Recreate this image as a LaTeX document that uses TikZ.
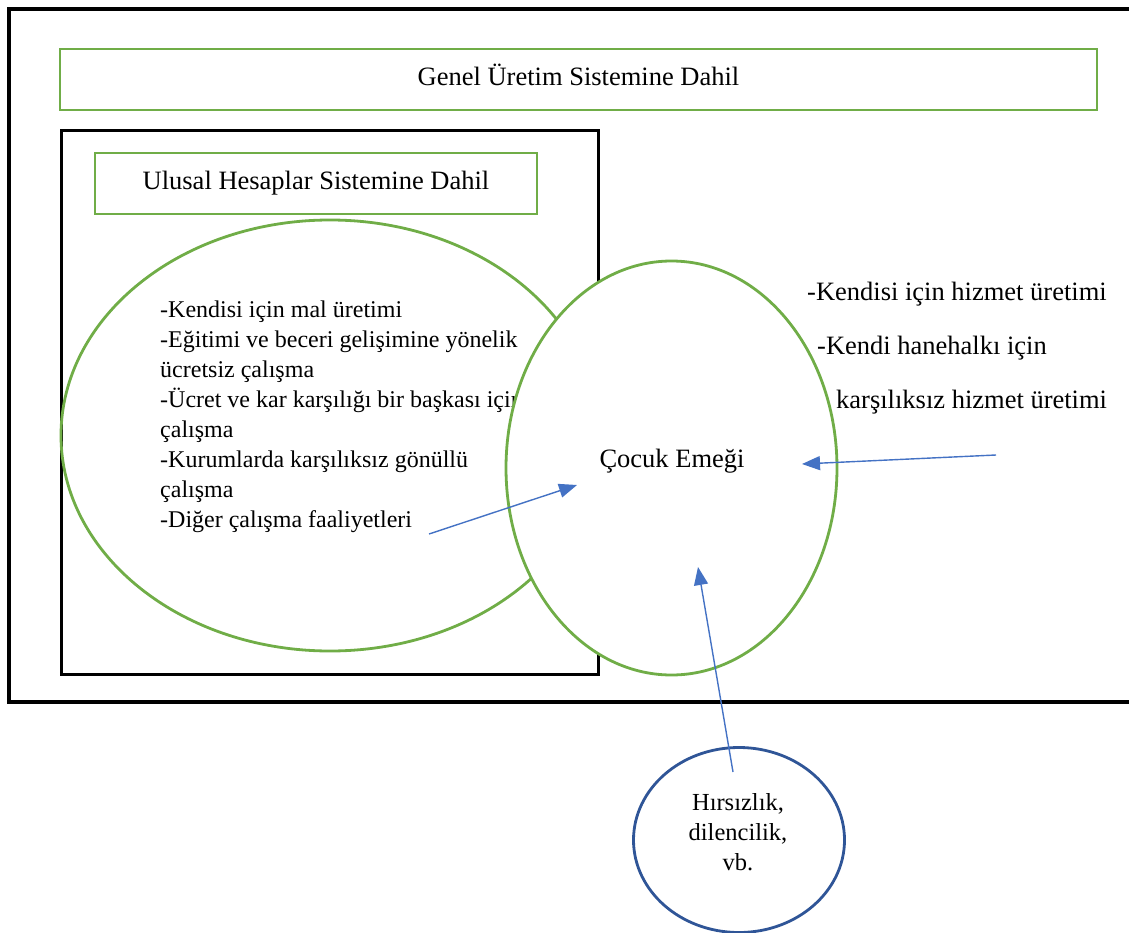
\documentclass[tikz,border=0pt]{standalone}
\usepackage{fontspec}
\setmainfont{Liberation Serif}
\usetikzlibrary{shapes.geometric,arrows.meta}
\definecolor{grn}{HTML}{70AD47}
\definecolor{arr}{HTML}{4472C4}
\definecolor{dblue}{HTML}{2F5597}
\begin{document}
\begin{tikzpicture}[x=1pt,y=-1pt,
  bigtxt/.style={font=\fontsize{26.5}{30}\selectfont, inner sep=0pt, anchor=base},
  listtxt/.style={font=\fontsize{24}{30}\selectfont, inner sep=0pt, anchor=base west},
  smalltxt/.style={font=\fontsize{24.5}{30}\selectfont, inner sep=0pt, anchor=base},
  rtxt/.style={font=\fontsize{26.5}{30}\selectfont, inner sep=0pt, anchor=base west},
  outerbox/.style={draw=black, line width=3.2pt, inner sep=0pt, outer sep=0pt},
  blackbox/.style={draw=black, line width=3pt, inner sep=0pt, outer sep=0pt},
  greenbox/.style={draw=grn, line width=2.8pt, inner sep=0pt, outer sep=0pt},
  greenell/.style={draw=grn, line width=2.8pt, ellipse, inner sep=0pt, outer sep=0pt},
  blueell/.style={draw=dblue, line width=2.8pt, ellipse, inner sep=0pt, outer sep=0pt},
  link/.style={draw=arr, line width=1.4pt, -{Triangle[length=18pt,width=14pt]}}
]
\useasboundingbox (0,0) rectangle (1129,933);
% outer frame (right edge beyond the page)
\node[outerbox, minimum width=1131pt, minimum height=693pt, anchor=north west] (outer) at (9,9) {};
% top green box
\node[greenbox, minimum width=1037pt, minimum height=61pt] (genelbox) at (578.5,79.5) {};
\node[bigtxt] (genel) at (578.5,86) {Genel Üretim Sistemine Dahil};
% inner black box
\node[blackbox, minimum width=537pt, minimum height=543pt] (inner) at (329.5,402.5) {};
% Ulusal box
\node[greenbox, minimum width=442pt, minimum height=61pt] (ulusalbox) at (316,183.5) {};
\node[bigtxt] (ulusal) at (316,189.5) {Ulusal Hesaplar Sistemine Dahil};
% left ellipse
\node[greenell, minimum width=538pt, minimum height=431pt] (leftell) at (330,435.5) {};
\node[listtxt] (l1) at (160,317) {-Kendisi için mal üretimi};
\node[listtxt] (l2) at (160,347) {-Eğitimi ve beceri gelişimine yönelik};
\node[listtxt] (l3) at (160,377) {ücretsiz çalışma};
\node[listtxt] (l4) at (160,407) {-Ücret ve kar karşılığı bir başkası için};
\node[listtxt] (l5) at (160,437) {çalışma};
\node[listtxt] (l6) at (160,467) {-Kurumlarda karşılıksız gönüllü};
\node[listtxt] (l7) at (160,497) {çalışma};
\node[listtxt] (l8) at (160,527) {-Diğer çalışma faaliyetleri};
% right ellipse (white filled, on top)
\node[greenell, fill=white, minimum width=331pt, minimum height=414pt] (rightell) at (671.5,468) {};
\node[bigtxt] (cocuk) at (672,467) {Çocuk Emeği};
% right texts
\node[rtxt] (r1) at (807,300) {-Kendisi için hizmet üretimi};
\node[rtxt] (r2) at (817,354) {-Kendi hanehalkı için};
\node[rtxt] (r3) at (836,408) {karşılıksız hizmet üretimi};
% blue ellipse
\node[blueell, minimum width=211pt, minimum height=185pt] (blueell) at (739,840) {};
\node[smalltxt] (b1) at (738,810) {Hırsızlık,};
\node[smalltxt] (b2) at (738,840) {dilencilik,};
\node[smalltxt] (b3) at (738,870) {vb.};
% arrows
\coordinate (a1s) at (429,534);
\coordinate (a1e) at (577,485);
\coordinate (a2s) at (996,455);
\coordinate (a2e) at (802,464);
\coordinate (a3s) at (733,772);
\coordinate (a3e) at (698,567);
\draw[link] (a1s) -- (a1e);
\draw[link] (a2s) -- (a2e);
\draw[link] (a3s) -- (a3e);
\end{tikzpicture}
\end{document}
